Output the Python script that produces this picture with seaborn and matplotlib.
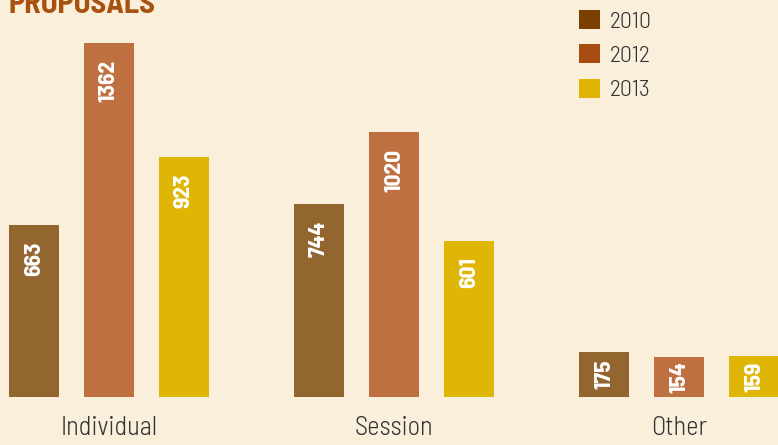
import numpy as np
import pandas as pd
import seaborn as sns
import matplotlib.pyplot as plt
from matplotlib.patches import Patch

categories = ['Individual', 'Session', 'Other']
years = ['2010', '2012', '2013']
values_2010 = [663, 744, 175]
values_2012 = [1362, 1020, 154]
values_2013 = [923, 601, 159]

bar_colors = ['#93652f', '#bf7040', '#dfb506']
legend_colors = ['#7a4000', '#a84c12', '#e0b400']
bg = '#f9efda'

df = pd.DataFrame({
    'category': categories * 3,
    'year': [y for y in years for _ in categories],
    'count': values_2010 + values_2012 + values_2013,
})

sns.set_style('white', rc={'axes.facecolor': bg, 'figure.facecolor': bg})
plt.rcParams['font.family'] = ['Barlow Semi Condensed', 'DejaVu Sans']

fig = plt.figure(figsize=(7.78, 4.45), dpi=100)
ax = fig.add_axes([0, 48 / 445, 1, 397 / 445])

sns.barplot(data=df, x='category', y='count', hue='year', palette=bar_colors,
            width=0.79, gap=0.34, saturation=1, legend=False, linewidth=0, ax=ax)

ax.set_xlim(-0.382, 2.347)
ax.set_ylim(0, 1527)
for s in ax.spines.values():
    s.set_visible(False)
ax.set_yticks([])
ax.set_xlabel('')
ax.set_ylabel('')
ax.tick_params(axis='x', length=0, pad=14, labelsize=19, labelcolor='#333333')
for lab in ax.get_xticklabels():
    lab.set_fontweight(300)

# value labels inside bars
for cont in ax.containers:
    for bar in cont:
        h = bar.get_height()
        xc = bar.get_x() + bar.get_width() / 2
        if h > 300:
            ax.annotate(f'{int(h)}', (xc, h), xytext=(0, -12), textcoords='offset points',
                        rotation=90, ha='center', va='top', color='white',
                        fontsize=17, fontweight='bold')
        else:
            ax.text(xc, h / 2, f'{int(h)}', rotation=90, ha='center', va='center',
                    color='white', fontsize=17, fontweight='bold')

handles = [Patch(facecolor=c, edgecolor='none', label=y) for c, y in zip(legend_colors, years)]
leg = fig.legend(handles=handles, loc='upper left', bbox_to_anchor=(579 / 778, 1 - 10 / 445),
                 frameon=False, fontsize=17, handlelength=0.9, handleheight=0.85,
                 handletextpad=0.4, labelspacing=0.5, borderpad=0, borderaxespad=0)
for t in leg.get_texts():
    t.set_color('#333333')
    t.set_fontweight(300)

fig.text(8 / 778, 1 - 13 / 445, 'PROPOSALS', fontsize=22, fontweight='bold',
         color='#a9520f', va='baseline', ha='left')

fig.savefig('out.png', dpi=100, facecolor=bg)
